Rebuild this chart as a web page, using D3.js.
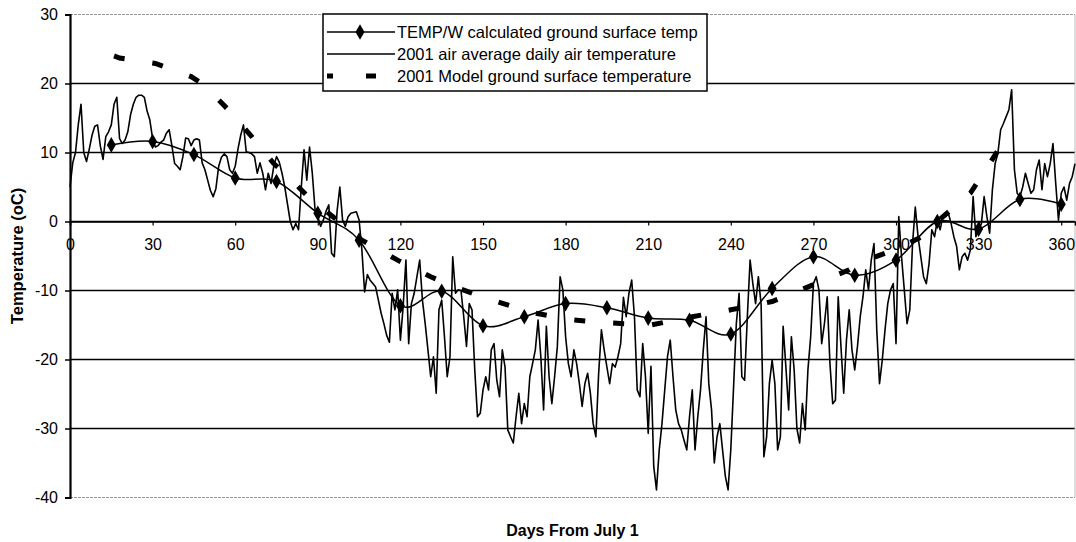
<!DOCTYPE html>
<html>
<head>
<meta charset="utf-8">
<script src="https://cdn.jsdelivr.net/npm/d3@7"></script>
<style>
  body { margin: 0; background: #fff; }
  svg { display: block; font-family: "Liberation Sans", Arial, sans-serif; }
</style>
</head>
<body>
<div id="chart"></div>
<script>
// TEMP/W calculated ground surface temperature (every 15 days)
const calcDays = [15, 30, 45, 60, 75, 90, 105, 120, 135, 150, 165, 180, 195, 210, 225, 240, 255, 270, 285, 300, 315, 330, 345, 360];
const calcTemps = [11.1, 11.6, 9.7, 6.3, 5.8, 1.2, -2.7, -12.2, -10.1, -15.1, -13.8, -11.9, -12.5, -14.0, -14.3, -16.3, -9.7, -5.1, -7.8, -5.6, 0.0, -1.1, 3.2, 2.5];

// 2001 average daily air temperature, day 0 .. 365
const airTemps = [
  5, 8.5, 10, 14, 17, 10, 8.7, 10.5, 12.5, 13.8, 14, 11, 9, 12.3, 13, 14, 17, 18, 12, 11.3,
  11.8, 13, 15.5, 17, 18, 18.3, 18.3, 18, 16, 14.7, 12, 10.8, 11, 11.5, 11.8, 12.8, 13.3, 11, 8.4, 8,
  7.5, 9.4, 12.1, 12, 11, 11.8, 12, 11.8, 8.5, 7.5, 6, 4.5, 3.6, 4.8, 8, 9.3, 9.8, 9.4, 7.5, 7,
  8, 10.5, 12.5, 14, 10.1, 10, 9.8, 9.4, 7, 8.5, 7, 4.6, 7, 5.5, 8, 9.4, 8.6, 7, 5, 2.5,
  0, -1.2, -0.3, -1.2, 5, 10.4, 6, 10.8, 7, 1.7, 0.7, -0.7, 0.2, 1.5, 2.4, -4.6, -5.1, 1.5, 5, 0.2,
  -0.7, 0.7, 1.2, 1.3, 1.4, 0.2, -4.1, -10.2, -7.7, -8.5, -9, -9.5, -11.4, -13.3, -14.8, -16.5, -17.5, -10.4, -12.8, -9.9,
  -17.2, -12.3, -5.6, -17.7, -11.9, -10.4, -8, -5.6, -11.4, -14.8, -18.6, -22.5, -19.6, -24.9, -12.8, -11.4, -16.7, -22.5, -19.6, -5.1,
  -10.4, -9.9, -10, -13.8, -18.1, -11.9, -12.8, -21.5, -28.3, -27.8, -24.4, -22.5, -24.4, -18.6, -17.7, -23, -25.4, -18.6, -21.1, -30.2,
  -31.2, -32.1, -28.3, -24.9, -29.3, -26.4, -28.3, -22.5, -20.6, -18.6, -14.3, -19.6, -27.3, -15.2, -22.5, -26.4, -22.5, -18.1, -8, -9.9,
  -16.7, -20.6, -22.5, -18.6, -20.6, -23.5, -26.8, -23.5, -22, -24.9, -29.3, -31.2, -22, -15.7, -18.6, -21.1, -23.5, -20.6, -21.1, -19.6,
  -17.7, -11, -13.8, -10.4, -8.5, -13.8, -24.4, -25.4, -17.7, -22.5, -30.7, -21, -35.5, -38.9, -33.1, -29.3, -24.4, -19.6, -17.2, -22.5,
  -27.3, -29.3, -30.2, -31.7, -33.1, -28.3, -24.4, -33.1, -28.3, -24.4, -18.6, -13.8, -23.5, -27.3, -35, -31.2, -29.3, -33.1, -36.9, -38.9,
  -33, -24, -14.8, -10.4, -22.5, -23, -13.8, -5.6, -9, -11.9, -8, -12, -34.1, -31.2, -23.5, -20.1, -23.5, -33.1, -31.2, -15.2,
  -21.1, -27.3, -16.7, -21.5, -30, -32.1, -26.4, -30.2, -21.5, -16.7, -9, -8, -9.9, -17.7, -14.8, -10.9, -20.6, -26.4, -25.9, -10.9,
  -18.1, -24.9, -17.2, -12.8, -18.6, -21.5, -18.1, -13.8, -10.9, -7, -9.9, -5.6, -3.2, -15.7, -23.5, -20.1, -15.7, -11.9, -9.9, -9,
  -17.7, 0.7, -5.1, -9.9, -14.8, -12.8, -3.2, 2.1, -2.2, -5.1, -8, -9, -6.1, -1.2, -2.2, 0.2, -1.2, 0.7, 0.7, 1.2,
  -0.3, -2.2, -3.6, -7, -5.1, -4.6, -5.6, -4.1, 3.6, -2.2, -1.2, -0.3, 3.6, 0.7, -1.7, 4.6, 8.4, 9.9, 13.3, 14.2,
  15.2, 16.2, 19.1, 7.5, 4.1, 3.6, 5, 7, 5.5, 4.1, 4.6, 7.5, 8.9, 4.6, 8.4, 6.5, 8.4, 11.3, 5.5, 0.2,
  4.1, 5, 3.1, 5.5, 6.5, 8.4
];

// 2001 Model ground surface temperature
const modelDays = [16, 18, 31, 44, 48, 57, 66, 74, 78, 86, 97, 106, 119, 131, 138, 151, 163, 168, 181, 196, 211, 226, 240, 255, 271, 283, 288, 300, 312, 315, 327, 334, 341];
const modelTemps = [24, 23.7, 22.9, 21, 20, 16.4, 12.3, 8.4, 7, 3.8, 0.2, -2.7, -5.6, -8, -9.2, -11.1, -12.6, -13.2, -14.2, -14.7, -15, -13.8, -12.8, -11.6, -9, -7, -5.8, -4, -1.7, 0, 4.1, 8.4, 12.8];

const xTicks = [0, 30, 60, 90, 120, 150, 180, 210, 240, 270, 300, 330, 360];
const yTicks = [30, 20, 10, 0, -10, -20, -30, -40];

const seriesNames = [
  "TEMP/W calculated ground surface temp",
  "2001 air average daily air temperature",
  "2001 Model ground surface temperature"
];

const width = 1076, height = 542;
const plotLeft = 70, plotRight = 1075, plotTop = 14.5, plotBottom = 497.5;
const font = "'Liberation Sans', Arial, sans-serif";

const svg = d3.select("#chart")
  .append("svg")
    .attr("width", width)
    .attr("height", height);

const x = d3.scaleLinear().domain([0, 365]).range([plotLeft, plotRight]);
const y = d3.scaleLinear().domain([-40, 30]).range([plotBottom, plotTop]);

// gridlines
svg.append("g")
  .selectAll("line")
  .data(yTicks)
  .enter()
  .append("line")
    .attr("x1", plotLeft)
    .attr("x2", plotRight)
    .attr("y1", d => y(d))
    .attr("y2", d => y(d))
    .attr("stroke", d => (d === 30 || d === -40) ? "#999" : "#000")
    .attr("stroke-width", d => (d === 30 || d === -40) ? 1 : 1.3)
    .attr("stroke-dasharray", d => (d === 30 || d === -40) ? "3,1" : null);

// right border of plot area
svg.append("line")
  .attr("x1", plotRight).attr("x2", plotRight)
  .attr("y1", plotTop).attr("y2", plotBottom)
  .attr("stroke", "#bbb")
  .attr("stroke-width", 1);

// air temperature
const airLine = d3.line()
  .x((d, i) => x(i))
  .y(d => y(d));

svg.append("path")
  .datum(airTemps)
  .attr("d", airLine)
  .attr("fill", "none")
  .attr("stroke", "#000")
  .attr("stroke-width", 1.6)
  .attr("stroke-linejoin", "round");

// model ground surface temperature (thick dashes)
const modelData = modelDays.map((d, i) => [d, modelTemps[i]]);
svg.append("path")
  .datum(modelData)
  .attr("d", d3.line().x(d => x(d[0])).y(d => y(d[1])))
  .attr("fill", "none")
  .attr("stroke", "#000")
  .attr("stroke-width", 5)
  .attr("stroke-dasharray", "11,28");

// TEMP/W calculated line + diamonds
const calcData = calcDays.map((d, i) => [d, calcTemps[i]]);
svg.append("path")
  .datum(calcData)
  .attr("d", d3.line().curve(d3.curveCardinal.tension(0)).x(d => x(d[0])).y(d => y(d[1])))
  .attr("fill", "none")
  .attr("stroke", "#000")
  .attr("stroke-width", 1.5);

const diamond = d3.symbol().type(d3.symbolDiamond).size(70);
svg.append("g")
  .selectAll("path")
  .data(calcData)
  .enter()
  .append("path")
    .attr("d", diamond)
    .attr("transform", d => "translate(" + x(d[0]) + "," + y(d[1]) + ")")
    .attr("fill", "#000");

// y axis (plain hyphen minus like the original)
const yAxis = svg.append("g")
  .attr("transform", "translate(" + plotLeft + ",0)")
  .call(d3.axisLeft(y).tickValues(yTicks).tickSize(5).tickPadding(7).tickFormat(d => String(d)));
yAxis.select(".domain").attr("stroke", "#000").attr("stroke-width", 2.2);
yAxis.selectAll(".tick line").attr("stroke", "#000").attr("stroke-width", 1.5);
yAxis.selectAll("text").attr("font-size", 16).attr("fill", "#000").attr("font-family", font);

// x axis on the zero line
const xAxis = svg.append("g")
  .attr("transform", "translate(0," + y(0) + ")")
  .call(d3.axisBottom(x).tickValues(xTicks).tickSize(4).tickPadding(13).tickFormat(d => String(d)));
xAxis.select(".domain").attr("stroke", "#000").attr("stroke-width", 1.6);
xAxis.selectAll(".tick line").attr("stroke", "#000").attr("stroke-width", 1.2);
xAxis.selectAll("text").attr("font-size", 16).attr("fill", "#000").attr("font-family", font);

// axis titles
svg.append("text")
  .attr("transform", "translate(23," + ((plotTop + plotBottom) / 2) + ") rotate(-90)")
  .attr("text-anchor", "middle")
  .attr("font-size", 16.5)
  .attr("font-weight", "bold")
  .text("Temperature (oC)");

svg.append("text")
  .attr("x", (plotLeft + plotRight) / 2)
  .attr("y", 536)
  .attr("text-anchor", "middle")
  .attr("font-size", 16)
  .attr("font-weight", "bold")
  .text("Days From July 1");

// legend
const legend = svg.append("g").attr("transform", "translate(323,14)");
legend.append("rect")
  .attr("width", 384)
  .attr("height", 77)
  .attr("fill", "#fff")
  .attr("stroke", "#000")
  .attr("stroke-width", 1.5);

const rows = legend.selectAll("g.row")
  .data(seriesNames)
  .enter()
  .append("g")
    .attr("class", "row")
    .attr("transform", (d, i) => "translate(0," + (18 + i * 22) + ")");

rows.append("line")
  .attr("x1", 4)
  .attr("x2", 72)
  .attr("stroke", "#000")
  .attr("stroke-width", (d, i) => i === 2 ? 5 : 1.5)
  .attr("stroke-dasharray", (d, i) => i === 2 ? "6,33,10,30" : null);

rows.filter((d, i) => i === 0)
  .append("path")
    .attr("d", diamond)
    .attr("transform", "translate(37,0)")
    .attr("fill", "#000");

rows.append("text")
  .attr("x", 74)
  .attr("dy", "0.35em")
  .attr("font-size", 16.5)
  .text(d => d);
</script>
</body>
</html>
